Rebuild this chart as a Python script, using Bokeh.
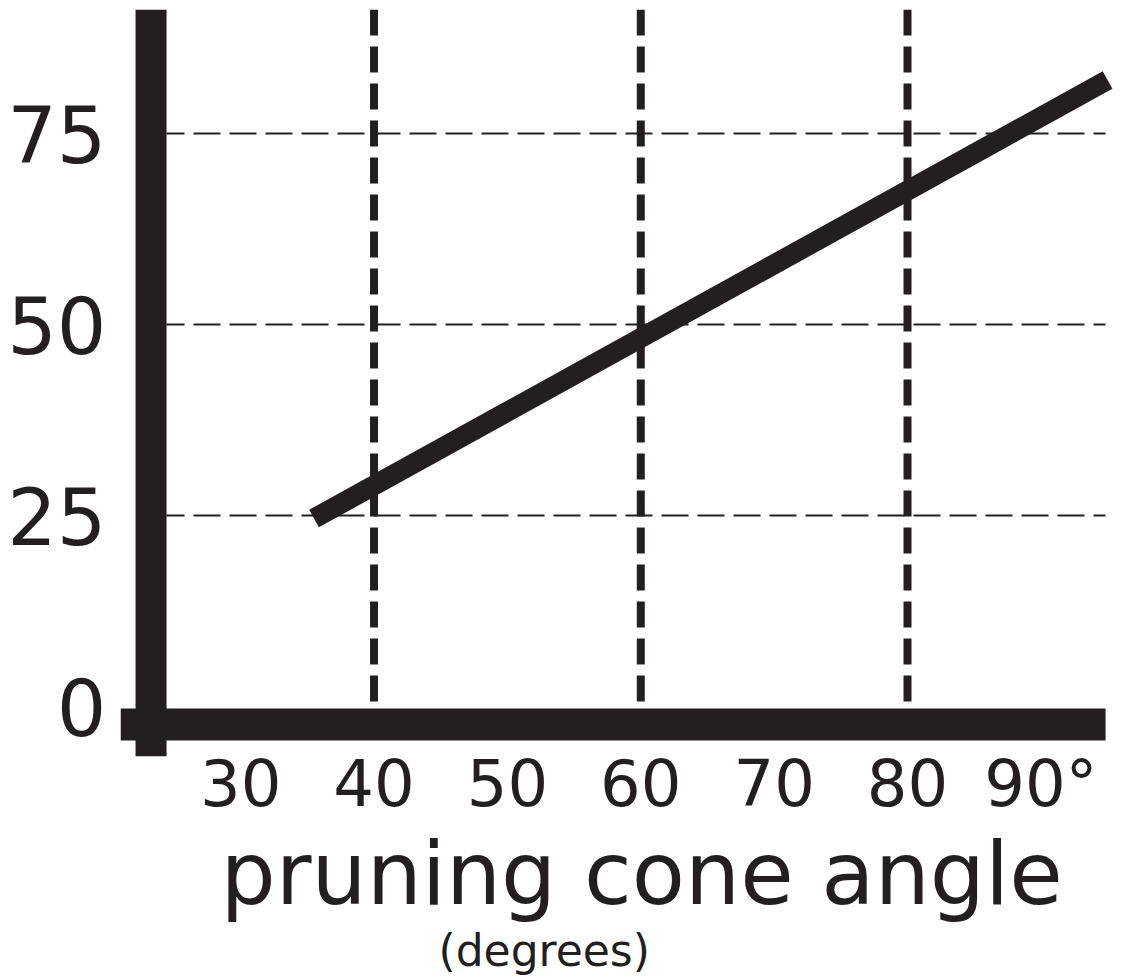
from bokeh.plotting import figure
from bokeh.models import FixedTicker, Span, Range1d, Title
from bokeh.embed import file_html
from bokeh.resources import INLINE

# ---- data ----
angle = [35.5, 95.0]          # pruning cone angle (degrees)
value = [24.6, 82.0]          # plotted quantity
x_ticks = [30, 40, 50, 60, 70, 80, 90]
x_tick_labels = ["30", "40", "50", "60", "70", "80", "90°"]
y_ticks = [0, 25, 50, 75]
y_tick_labels = ["0", "25", "50", "75"]
v_grid = [40, 60, 80]
h_grid = [25, 50, 75]

INK = "#231f20"
FONT = "DejaVu Sans"

X0, X1 = 20.99, 95.52
Y0, Y1 = -6.54, 91.23

p = figure(width=1122, height=979, output_backend="svg", toolbar_location=None,
           x_range=Range1d(X0, X1), y_range=Range1d(Y0, Y1),
           min_border_left=120, min_border_right=8, min_border_top=9, min_border_bottom=223)
p.outline_line_color = None
p.grid.visible = False
p.background_fill_color = "white"
p.border_fill_color = "white"

# axes (labels only)
for ax in (p.xaxis[0], p.yaxis[0]):
    ax.axis_line_color = None
    ax.major_tick_line_color = None
    ax.minor_tick_line_color = None
    ax.major_label_text_font = FONT
    ax.major_label_text_color = INK
p.xaxis.ticker = FixedTicker(ticks=x_ticks)
p.xaxis.major_label_overrides = {t: l for t, l in zip(x_ticks, x_tick_labels)}
p.xaxis.major_label_text_font_size = "64px"
p.xaxis.major_label_standoff = -16
p.yaxis.ticker = FixedTicker(ticks=y_ticks)
p.yaxis.major_label_overrides = {t: l for t, l in zip(y_ticks, y_tick_labels)}
p.yaxis.major_label_text_font_size = "78px"
p.yaxis.major_label_standoff = 8

# positions of the heavy axis bars (data units)
ybar_x = 23.28
ybar_right = 24.44
xbar_y = -2.36
xbar_end = 94.85

# horizontal dashed reference lines
p.segment(x0=[ybar_right] * len(h_grid), x1=[xbar_end] * len(h_grid), y0=h_grid, y1=h_grid,
          line_color=INK, line_width=2, line_dash="27 9", line_dash_offset=9)
# vertical dashed reference lines
p.segment(x0=v_grid, x1=v_grid, y0=[Y1] * len(v_grid), y1=[xbar_y] * len(v_grid),
          line_color=INK, line_width=8, line_dash="26 11")

# data line
p.line(angle, value, line_color=INK, line_width=20, line_cap="butt")

# heavy axis bars
p.segment(x0=[X0], x1=[xbar_end], y0=[xbar_y], y1=[xbar_y], line_color=INK, line_width=32, line_cap="butt")
p.add_layout(Span(location=ybar_x, dimension="height", line_color=INK, line_width=31))

# axis titles
p.add_layout(Title(text="pruning cone angle", align="left", offset=100, text_font=FONT,
                   text_font_size="87px", text_font_style="normal", text_color=INK,
                   standoff=-6), "below")
p.add_layout(Title(text="(degrees)", align="left", offset=318, text_font=FONT,
                   text_font_size="44px", text_font_style="normal", text_color=INK,
                   standoff=2), "below")

open("out.html", "w").write(file_html(p, INLINE))
